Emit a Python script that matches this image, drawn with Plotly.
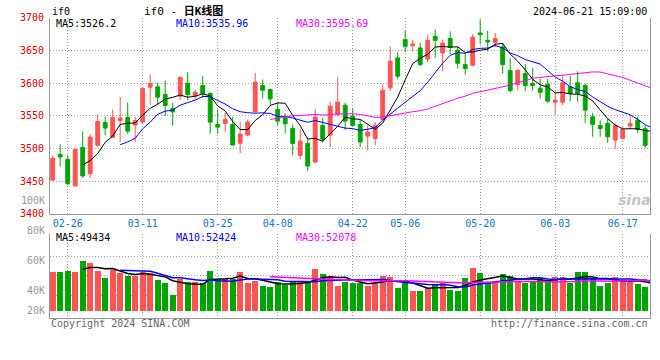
import plotly.graph_objects as go
import pandas as pd

# ---------------- data ----------------
dates = [
    "02-22", "02-23", "02-26", "02-27", "02-28", "02-29", "03-01",
    "03-04", "03-05", "03-06", "03-07", "03-08",
    "03-11", "03-12", "03-13", "03-14", "03-15",
    "03-18", "03-19", "03-20", "03-21", "03-22",
    "03-25", "03-26", "03-27", "03-28", "03-29",
    "04-01", "04-02", "04-03",
    "04-08", "04-09", "04-10", "04-11", "04-12",
    "04-15", "04-16", "04-17", "04-18", "04-19",
    "04-22", "04-23", "04-24", "04-25", "04-26",
    "04-29", "04-30",
    "05-06", "05-07", "05-08", "05-09", "05-10",
    "05-13", "05-14", "05-15", "05-16", "05-17",
    "05-20", "05-21", "05-22", "05-23", "05-24",
    "05-27", "05-28", "05-29", "05-30", "05-31",
    "06-03", "06-04", "06-05", "06-06", "06-07",
    "06-11", "06-12", "06-13", "06-14",
    "06-17", "06-18", "06-19", "06-20", "06-21",
]

opens = [
    3451.8, 3490.9, 3483.3, 3442.6, 3501.6, 3461.4, 3504.7, 3539.8, 3516.9, 3542.8,
    3547.4, 3535.7, 3540.3, 3593.7, 3594.2, 3582.5, 3561.1, 3580.0, 3599.8, 3580.0,
    3596.2, 3584.0, 3536.7, 3538.2, 3536.7, 3508.0, 3520.4, 3556.0, 3596.2, 3590.1,
    3559.6, 3546.9, 3530.6, 3489.4, 3507.7, 3479.2, 3535.2, 3520.4, 3552.0, 3566.2,
    3549.4, 3536.7, 3518.9, 3514.8, 3544.4, 3592.7, 3638.5, 3666.5, 3657.3, 3653.7,
    3636.9, 3671.5, 3646.1, 3668.0, 3650.2, 3628.3, 3627.3, 3676.6, 3665.4, 3662.4,
    3655.2, 3619.1, 3597.8, 3614.5, 3599.3, 3592.2, 3597.8, 3570.8, 3570.8, 3594.2,
    3600.3, 3596.2, 3548.4, 3535.2, 3538.2, 3512.8, 3515.3, 3534.2, 3543.3, 3530.1,
    3506.0,
]
highs = [
    3489.4, 3506.2, 3489.9, 3499.6, 3526.0, 3521.5, 3552.0, 3548.4, 3559.6, 3578.9,
    3570.3, 3548.4, 3593.7, 3613.0, 3600.3, 3603.9, 3569.8, 3609.5, 3616.6, 3590.0,
    3610.5, 3586.0, 3559.6, 3555.5, 3548.4, 3540.0, 3544.4, 3615.6, 3605.4, 3591.6,
    3569.8, 3553.5, 3536.7, 3529.1, 3513.8, 3560.6, 3546.9, 3571.8, 3608.9, 3569.8,
    3560.6, 3544.4, 3535.2, 3540.3, 3597.7, 3656.3, 3647.1, 3680.2, 3666.5, 3661.3,
    3674.1, 3681.7, 3666.4, 3679.1, 3655.2, 3644.6, 3675.1, 3696.9, 3680.2, 3676.6,
    3660.3, 3638.5, 3620.6, 3629.3, 3623.2, 3606.4, 3606.4, 3587.6, 3613.0, 3610.5,
    3618.1, 3599.3, 3554.5, 3542.8, 3545.4, 3538.2, 3533.1, 3550.4, 3548.4, 3535.2,
    3536.0,
]
lows = [
    3450.2, 3472.1, 3443.6, 3442.1, 3455.3, 3455.3, 3502.6, 3519.9, 3515.9, 3509.8,
    3522.5, 3509.8, 3539.3, 3567.2, 3567.2, 3549.4, 3535.2, 3573.9, 3573.9, 3575.0,
    3577.4, 3522.5, 3522.5, 3525.5, 3504.7, 3493.0, 3518.9, 3555.5, 3576.4, 3564.7,
    3535.2, 3523.0, 3489.4, 3483.3, 3465.5, 3477.2, 3509.8, 3502.1, 3549.4, 3528.1,
    3534.2, 3502.1, 3497.5, 3505.2, 3542.8, 3587.6, 3606.4, 3647.1, 3648.6, 3625.7,
    3631.8, 3638.5, 3618.1, 3644.6, 3622.2, 3613.0, 3625.7, 3659.8, 3648.6, 3655.2,
    3614.5, 3586.0, 3588.6, 3587.6, 3588.6, 3576.4, 3569.8, 3552.0, 3566.2, 3572.3,
    3571.3, 3539.3, 3517.9, 3517.9, 3508.7, 3499.6, 3513.8, 3529.1, 3524.0, 3501.1,
    3500.0,
]
closes = [
    3484.8, 3486.9, 3446.2, 3498.6, 3457.9, 3517.4, 3541.3, 3531.1, 3547.4, 3546.4,
    3526.5, 3542.8, 3591.7, 3599.3, 3578.4, 3565.7, 3556.0, 3609.0, 3582.5, 3586.1,
    3584.0, 3540.3, 3532.6, 3544.4, 3505.2, 3522.0, 3540.3, 3601.3, 3589.1, 3575.9,
    3541.8, 3537.7, 3507.7, 3511.3, 3473.1, 3547.9, 3513.8, 3564.7, 3570.8, 3541.8,
    3535.2, 3509.8, 3525.0, 3535.2, 3589.1, 3633.4, 3610.5, 3656.3, 3659.8, 3628.3,
    3665.4, 3665.4, 3661.3, 3654.7, 3630.3, 3622.2, 3670.0, 3674.1, 3662.9, 3668.0,
    3628.3, 3588.6, 3619.6, 3596.2, 3596.2, 3586.0, 3572.3, 3573.8, 3600.3, 3584.0,
    3584.0, 3558.6, 3536.7, 3530.6, 3517.9, 3535.2, 3529.1, 3538.2, 3529.1, 3504.7,
    3529.9,
]
volumes = [
    70200, 70200, 72000, 70200, 89300, 85700, 72000, 59500, 73200, 67200,
    62500, 62500, 69000, 67200, 55300, 50600, 28600, 56500, 52400, 52400,
    49400, 71400, 57100, 57100, 57700, 69000, 49400, 54100, 45200, 42800,
    52400, 46400, 53500, 51200, 51200, 75000, 66600, 61300, 45200, 52400,
    50600, 49400, 45200, 52400, 62500, 60700, 41600, 49400, 35700, 35700,
    40500, 46400, 49400, 37500, 35700, 58300, 76800, 67800, 49400, 53500,
    66000, 62500, 53500, 50600, 54100, 58300, 54100, 60700, 60100, 49400,
    69000, 69000, 57100, 44600, 50600, 60100, 55300, 55300, 48200, 42800,
    45600,
]

x_tick_labels = ["02-26", "03-11", "03-25", "04-08", "04-22", "05-06", "05-20", "06-03", "06-17"]
price_ticks = [3400, 3450, 3500, 3550, 3600, 3650, 3700]
vol_tick_labels = ["100K", "80K", "60K", "40K", "20K"]
price_ma_text = ["MA5:3526.2", "MA10:3535.96", "MA30:3595.69"]
vol_ma_text = ["MA5:49434", "MA10:52424", "MA30:52078"]
symbol = "if0"
title_text = "if0 - <b>日K线图</b>"
timestamp = "2024-06-21 15:09:00"
copyright_text = "Copyright 2024 SINA.COM"
url_text = "http://finance.sina.com.cn"

# ---------------- styles ----------------
RED = "#ff5454"
GREEN = "#00a600"
MA_COLORS = ["#000000", "#0000ff", "#ff00ff"]
FRAME = "#999999"
GRID = "#a0a0a0"
DASH = "1px,2px"
FONT = "DejaVu Sans Mono, Liberation Mono, monospace"

W, H = 660, 360
ML, MR = 50, 10
PW = W - ML - MR


def px(xp):
    return (xp - ML) / PW


def py(yp):
    return 1 - yp / H


x = list(range(len(dates)))
colors = [RED if c >= o else GREEN for o, c in zip(opens, closes)]
cs = pd.Series(closes)
vs = pd.Series(volumes, dtype=float)
windows = [5, 10, 30]

fig = go.Figure()
fig.add_trace(go.Candlestick(
    x=x, open=opens, high=highs, low=lows, close=closes,
    increasing=dict(line=dict(color=RED, width=1), fillcolor=RED),
    decreasing=dict(line=dict(color=GREEN, width=1), fillcolor=GREEN),
    whiskerwidth=0, xaxis="x", yaxis="y", hoverinfo="skip", showlegend=False,
))
for w, col in zip(windows, MA_COLORS):
    fig.add_trace(go.Scatter(
        x=x, y=cs.rolling(w).mean(), mode="lines",
        line=dict(color=col, width=1), xaxis="x", yaxis="y",
        hoverinfo="skip", showlegend=False,
    ))
fig.add_trace(go.Bar(
    x=x, y=volumes, width=0.8, marker=dict(color=colors, line=dict(width=0)),
    xaxis="x2", yaxis="y2", hoverinfo="skip", showlegend=False,
))
for w, col in zip(windows, MA_COLORS):
    fig.add_trace(go.Scatter(
        x=x, y=vs.rolling(w).mean(), mode="lines",
        line=dict(color=col, width=1.5), xaxis="x2", yaxis="y2",
        hoverinfo="skip", showlegend=False,
    ))

XR = [-0.36, 79.64]
tick_idx = [dates.index(d) for d in x_tick_labels]
VOL_RANGE = [-12500, 137500]
VOL_GRID = [28500, 63400, 98200, 137300]

axis_common = dict(showgrid=True, gridcolor=GRID, griddash=DASH, gridwidth=1,
                   zeroline=False, showline=True, linecolor=FRAME, linewidth=1,
                   ticks="", automargin=False, fixedrange=True)

fig.update_layout(
    width=W, height=H,
    margin=dict(l=ML, r=MR, t=0, b=0, pad=0, autoexpand=False),
    paper_bgcolor="white", plot_bgcolor="white",
    showlegend=False, boxgap=0.27, bargap=0, hovermode=False,
    font=dict(family=FONT, size=10, color="#000000"),
    xaxis=dict(domain=[0, 1], range=XR, anchor="y", tickvals=tick_idx,
               ticktext=x_tick_labels, tickfont=dict(color="#1475c4", size=10),
               rangeslider=dict(visible=False), **axis_common),
    yaxis=dict(domain=[py(213.8), py(17.7)], range=[3400, 3700], anchor="x",
               tickvals=price_ticks, tickfont=dict(color="#e00000", size=10),
               mirror=True, ticklabelstandoff=3, **axis_common),
    xaxis2=dict(domain=[0, 1], range=XR, anchor="y2", tickvals=tick_idx,
                showticklabels=False, **axis_common),
    yaxis2=dict(domain=[py(318), py(234)], range=VOL_RANGE, anchor="x2",
                tickvals=VOL_GRID, showticklabels=False, mirror=True,
                **axis_common),
)

ann = []


def text(xp, yp, s, color="#000000", anchor="left", size=10, **kw):
    ann.append(dict(x=px(xp), y=py(yp), xref="paper", yref="paper", text=s,
                    showarrow=False, xanchor=anchor, yanchor="middle",
                    font=dict(family=kw.pop("family", FONT), size=size, color=color),
                    **kw))


text(50, 12, symbol)
text(141.5, 10.5, title_text, size=11,
     family="DejaVu Sans Mono, Noto Sans CJK SC, sans-serif")
text(649, 12, timestamp, anchor="right")
for s, col, xp in zip(price_ma_text, MA_COLORS, [54, 174, 294]):
    text(xp, 24, s, color=col)
for s, col, xp in zip(vol_ma_text, MA_COLORS, [54, 174, 294]):
    text(xp, 237.5, s, color=col)
for s, yp in zip(vol_tick_labels, [200.5, 230.5, 260.7, 290.7, 310.7]):
    text(47, yp, s, color="#999999", anchor="right")
text(49, 323.5, copyright_text, color="#666666")
text(650, 323.5, url_text, color="#666666", anchor="right")
text(634, 200, "<b><i>sina</i></b>", color="#c4c4c4", anchor="center", size=14,
     family="DejaVu Sans, sans-serif")

fig.update_layout(annotations=ann)
fig.write_html(
    "out.html",
    config={"displayModeBar": False, "staticPlot": True},
    post_script="document.body.style.margin='0';document.body.style.overflow='hidden';",
)
